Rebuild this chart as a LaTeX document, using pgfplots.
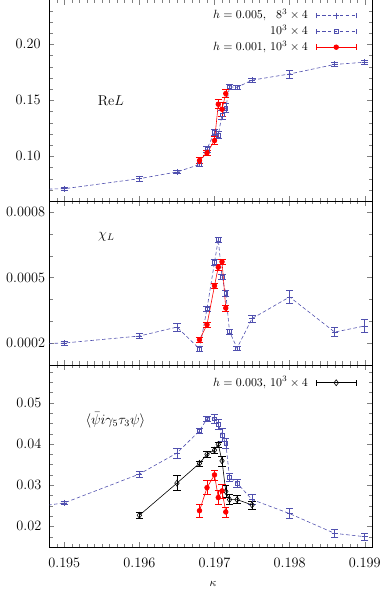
\documentclass[border=0pt]{standalone}
\usepackage{pgfplots}
\pgfplotsset{compat=1.18}
\usepackage{pgfplotstable}
\definecolor{gpblue}{RGB}{80,80,175}

% k, Re L, chi_L, <psibar i g5 t3 psi> with errors; L = spatial size
\pgfplotstableread{
k rel erel chi echi psi epsi L
0.194 0.0695 0.0015 0.000190 0.000010 0.0232 0.0004 8
0.195 0.0710 0.0015 0.000200 0.000010 0.0257 0.0003 8
0.196 0.0800 0.0020 0.000232 0.000012 0.0327 0.0008 8
0.1965 0.0860 0.0015 0.000273 0.000017 0.0378 0.0012 8
0.1968 0.0926 0.0015 0.000173 0.000010 0.0432 0.0005 10
0.1969 0.1065 0.0025 0.000357 0.000012 0.0461 0.0006 10
0.1970 0.1215 0.0030 0.000570 0.000012 0.0461 0.0010 10
0.19705 0.1190 0.0030 0.000674 0.000012 0.0448 0.0012 10
0.1971 0.1370 0.0040 0.000502 0.000012 0.0422 0.0015 10
0.19715 0.1430 0.0040 0.000428 0.000015 0.0402 0.0012 10
0.1972 0.1620 0.0025 0.000252 0.000010 0.0319 0.0010 10
0.1973 0.1616 0.0015 0.000177 0.000008 0.0305 0.0010 10
0.1975 0.1680 0.0020 0.000312 0.000015 0.0265 0.0012 8
0.1980 0.1735 0.0035 0.000411 0.000030 0.0231 0.0012 8
0.1986 0.1820 0.0020 0.000250 0.000020 0.0183 0.0010 8
0.1990 0.1840 0.0020 0.000278 0.000030 0.0175 0.0008 8
}\tabblue

\pgfplotstableread{
k rel erel chi echi psi epsi
0.1968 0.0962 0.0025 0.000215 0.000012 0.0238 0.0015
0.1969 0.1030 0.0025 0.000284 0.000012 0.0294 0.0017
0.1970 0.1140 0.0035 0.000462 0.000012 0.0325 0.0012
0.19705 0.1465 0.0040 0.000547 0.000012 0.0270 0.0017
0.1971 0.1420 0.0060 0.000572 0.000012 0.0286 0.0017
0.19715 0.1560 0.0035 0.000360 0.000015 0.0235 0.0012
}\tabred

\pgfplotstableread{
k psi epsi
0.1960 0.0227 0.0008
0.1965 0.0305 0.0018
0.1968 0.0353 0.0006
0.1969 0.0375 0.0007
0.1970 0.0385 0.0007
0.19705 0.0399 0.0006
0.1971 0.0359 0.0012
0.19715 0.0285 0.0015
0.1972 0.0265 0.0012
0.1973 0.0265 0.0010
0.1975 0.0252 0.0010
}\tabblack

\pgfplotsset{
  panel/.style={
    scale only axis, width=271.3pt,
    xmin=0.1948, xmax=0.1991,
    xtick={0.195,0.196,0.197,0.198,0.199},
    minor xtick={0.1949,0.1951,0.1952,0.1953,0.1954,0.1955,0.1956,0.1957,0.1958,0.1959,
      0.1961,0.1962,0.1963,0.1964,0.1965,0.1966,0.1967,0.1968,0.1969,
      0.1971,0.1972,0.1973,0.1974,0.1975,0.1976,0.1977,0.1978,0.1979,
      0.1981,0.1982,0.1983,0.1984,0.1985,0.1986,0.1987,0.1988,0.1989,0.1991},
    tick align=inside, scaled ticks=false,
    tick label style={font=\large},
  },
  gperr/.style={error bars/y dir=both, error bars/y explicit,
    error bars/error mark options={rotate=90, mark size=3pt, solid},
    error bars/error bar style={solid}},
  gpleg/.style={legend image code/.code={
    \path (-5.5pt,0pt);
    \draw[##1,mark=none] (0pt,0pt) -- (34pt,0pt);
    \draw[##1,mark=none,solid] (0pt,-2.3pt) -- (0pt,2.3pt) (34pt,-2.3pt) -- (34pt,2.3pt);
    \draw[##1,solid] plot coordinates {(17pt,0pt)};
  }},
  bline/.style={gpblue, line width=0.5pt, dash pattern=on 3pt off 2pt},
  gplegstyle/.style={legend cell align=right, legend plot pos=right,
    legend style={draw=none, fill=none, inner sep=0pt, row sep=0.8pt,
      nodes={inner sep=1pt, text height=8pt, text depth=2.5pt},
      at={(rel axis cs:1,1)}, anchor=north east, xshift=-12.8pt, yshift=#1}},
}

\begin{document}
\begin{tikzpicture}
% top: Re L
\begin{axis}[panel, at={(0,290.6pt)}, anchor=south west, height=169.3pt,
  ymin=0.06, ymax=0.24, ytick={0.10,0.15,0.20},
  minor ytick={0.06,0.07,0.08,0.09,0.11,0.12,0.13,0.14,0.16,0.17,0.18,0.19,0.21,0.22,0.23},
  xticklabels={},
  yticklabel style={xshift=-3.8pt, /pgf/number format/fixed, /pgf/number format/fixed zerofill, /pgf/number format/precision=2},
  gplegstyle=-7pt]
\addplot[bline, forget plot] table[x=k, y=rel] {\tabblue};
\addplot[bline, gpleg, gperr, only marks, mark=+, mark size=2.5pt, mark options={solid},
  restrict expr to domain={\thisrow{L}}{7:9}] table[x=k, y=rel, y error=erel] {\tabblue};
\addlegendentry{$h=0.005$, \phantom{1}$8^3\times 4$}
\addplot[bline, gpleg, gperr, only marks, mark=square, mark size=1.6pt, mark options={solid},
  restrict expr to domain={\thisrow{L}}{9:11}] table[x=k, y=rel, y error=erel] {\tabblue};
\addlegendentry{$10^3\times 4$}
\addplot[red, gpleg, gperr, line width=0.5pt, mark=*, mark size=2pt] table[x=k, y=rel, y error=erel] {\tabred};
\addlegendentry{$h=0.001$, $10^3\times 4$}
\node[font=\large] at (axis cs:0.19562,0.15) {Re$L$};
\end{axis}

% middle: chi_L
\begin{axis}[panel, at={(0,153pt)}, anchor=south west, height=137.6pt,
  ymin=0.0001, ymax=0.00085, ytick={0.0002,0.0005,0.0008},
  minor ytick={0.0001,0.0003,0.0004,0.0006,0.0007},
  xticklabels={},
  yticklabel style={xshift=0pt, /pgf/number format/fixed, /pgf/number format/precision=4}]
\addplot[bline] table[x=k, y=chi] {\tabblue};
\addplot[bline, gperr, only marks, mark=+, mark size=2.5pt, mark options={solid},
  restrict expr to domain={\thisrow{L}}{7:9}] table[x=k, y=chi, y error=echi] {\tabblue};
\addplot[bline, gperr, only marks, mark=square, mark size=1.6pt, mark options={solid},
  restrict expr to domain={\thisrow{L}}{9:11}] table[x=k, y=chi, y error=echi] {\tabblue};
\addplot[red, gperr, line width=0.5pt, mark=*, mark size=2pt] table[x=k, y=chi, y error=echi] {\tabred};
\node[font=\large] at (axis cs:0.19556,0.000685) {$\chi_L$};
\end{axis}

% bottom: <psibar i gamma5 tau3 psi>
\begin{axis}[panel, at={(0,0)}, anchor=south west, height=153pt,
  ymin=0.015, ymax=0.0592, ytick={0.02,0.03,0.04,0.05},
  minor ytick={0.0175,0.0225,0.025,0.0275,0.0325,0.035,0.0375,0.0425,0.045,0.0475,0.0525,0.055,0.0575},
  xticklabel style={yshift=-5.7pt, /pgf/number format/fixed, /pgf/number format/fixed zerofill, /pgf/number format/precision=3},
  yticklabel style={xshift=-3.2pt, /pgf/number format/fixed, /pgf/number format/fixed zerofill, /pgf/number format/precision=2},
  xlabel={$\kappa$},
  xlabel style={at={(axis description cs:0.5,0)}, anchor=center, yshift=-31.4pt, xshift=2pt},
  gplegstyle=-8.6pt]
\addplot[bline, forget plot] table[x=k, y=psi] {\tabblue};
\addplot[bline, gperr, only marks, mark=+, mark size=2.5pt, mark options={solid}, forget plot,
  restrict expr to domain={\thisrow{L}}{7:9}] table[x=k, y=psi, y error=epsi] {\tabblue};
\addplot[bline, gperr, only marks, mark=square, mark size=1.6pt, mark options={solid}, forget plot,
  restrict expr to domain={\thisrow{L}}{9:11}] table[x=k, y=psi, y error=epsi] {\tabblue};
\addplot[black, gpleg, gperr, line width=0.5pt, mark=diamond, mark size=2.5pt, mark options={solid, fill=white}]
  table[x=k, y=psi, y error=epsi] {\tabblack};
\addlegendentry{$h=0.003$, $10^3\times 4$}
\addplot[red, gperr, line width=0.5pt, mark=*, mark size=2pt, forget plot] table[x=k, y=psi, y error=epsi] {\tabred};
\node[font=\large] at (axis cs:0.19568,0.0457) {$\langle\bar\psi i\gamma_5\tau_3\psi\rangle$};
\end{axis}

\pgfresetboundingbox
\useasboundingbox (-41.4pt,-35.3pt) rectangle (279.5pt,459.5pt);
\end{tikzpicture}
\end{document}
